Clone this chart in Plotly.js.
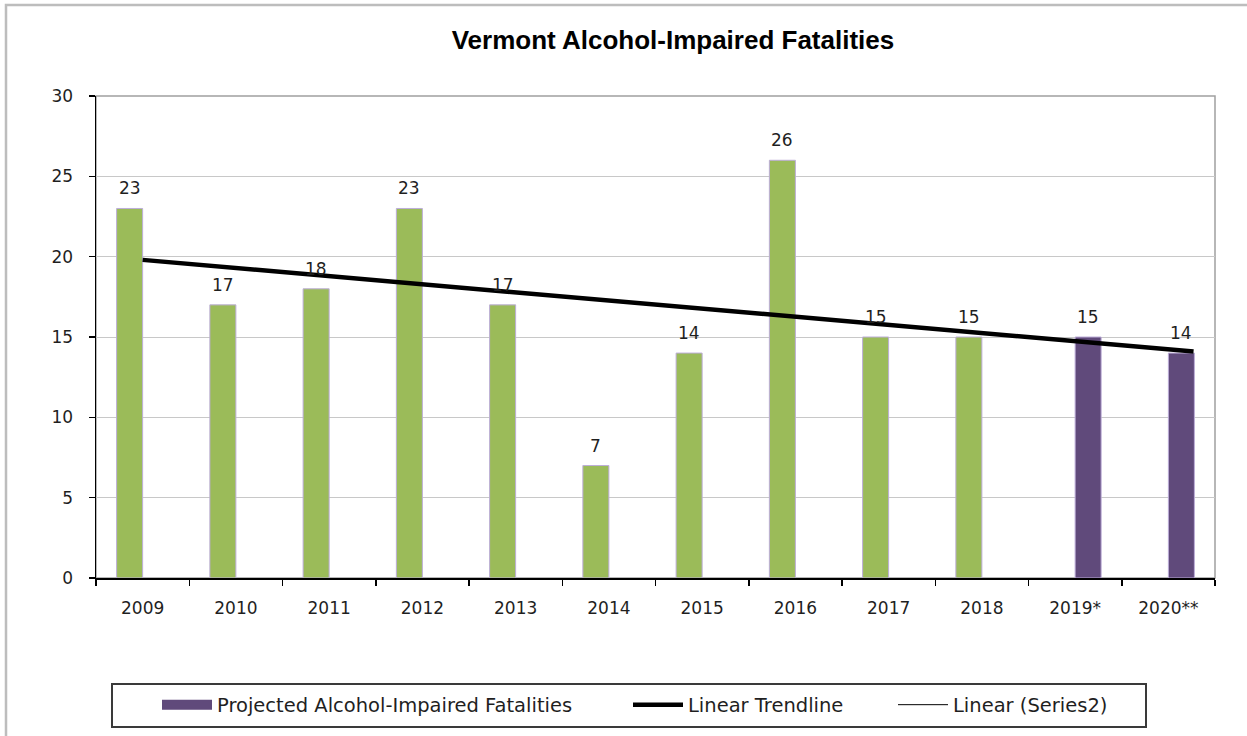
<!DOCTYPE html>
<html>
<head>
<meta charset="utf-8">
<script src="https://cdn.plot.ly/plotly-3.0.1.min.js"></script>
<style>html,body{margin:0;padding:0;background:#fff;}#chart{width:1247px;height:736px;}</style>
</head>
<body>
<div id="chart"></div>
<script>
// ---- data ----
const categories = ['2009','2010','2011','2012','2013','2014','2015','2016','2017','2018','2019*','2020**'];
const actualYears = ['2009','2010','2011','2012','2013','2014','2015','2016','2017','2018'];
const actualValues = [23,17,18,23,17,7,14,26,15,15];
const projectedYears = ['2019*','2020**'];
const projectedValues = [15,14];
// trendline: start at 2009, extending a bit past 2020** centre
const trendPos = [0, 11.27];
const trendValues = [19.8, 14.1];
const yTicks = [0,5,10,15,20,25,30];

const idx = c => categories.indexOf(c);
const actualX = actualYears.map(idx);
const projX = projectedYears.map(idx);

const FONT = 'DejaVu Sans, Verdana, sans-serif';
const TXT = '#1f1f1f';
const PURPLE = '#604A7B';

const traces = [
  {type:'bar', name:'Alcohol-Impaired Fatalities', x:actualX, y:actualValues, offsetgroup:'a',
   marker:{color:'#9BBB59', line:{color:'#BCADD8', width:1}}, showlegend:false},
  {type:'bar', name:'Projected Alcohol-Impaired Fatalities', x:projX, y:projectedValues, offsetgroup:'b',
   marker:{color:PURPLE, line:{color:'#BCADD8', width:1}}, showlegend:false},
  // legend swatch for the projected series (wide rectangle like the original)
  {type:'scatter', mode:'lines', name:'Projected Alcohol-Impaired Fatalities', x:[null], y:[null],
   line:{color:PURPLE, width:13}, legend:'legend'},
  {type:'scatter', mode:'lines', name:'Linear Trendline', x:trendPos, y:trendValues,
   line:{color:'#000', width:4.5}, legend:'legend2', cliponaxis:false},
  {type:'scatter', mode:'lines', name:'Linear (Series2)', x:[null], y:[null],
   line:{color:'#000', width:1}, legend:'legend3'}
];

const LBL = {family:FONT, size:17, color:TXT};
const annotations = [];
actualX.forEach((x,i)=>annotations.push({x:x, y:actualValues[i], xref:'x', yref:'y', text:String(actualValues[i]),
  showarrow:false, yanchor:'bottom', xshift:-13, yshift:8, font:LBL}));
projX.forEach((x,i)=>annotations.push({x:x, y:projectedValues[i], xref:'x', yref:'y', text:String(projectedValues[i]),
  showarrow:false, yanchor:'bottom', xshift:13, yshift:8, font:LBL}));

const legendFont = {family:FONT, size:19.5, color:TXT};
const LY = (578-705)/482;
const layout = {
  width:1247, height:736,
  margin:{l:96, r:32, t:96, b:158},
  paper_bgcolor:'#fff', plot_bgcolor:'#fff',
  barmode:'group', bargap:0.442, bargroupgap:0,
  title:{text:'<b>Vermont Alcohol-Impaired Fatalities</b>', x:0.5156, xref:'paper', xanchor:'center',
         y:1-40/736, yref:'container', yanchor:'middle',
         font:{family:'Liberation Sans, Arial, sans-serif', size:26, color:'#000'}},
  xaxis:{range:[-0.5,11.5], tickvals:categories.map((c,i)=>i), ticktext:categories,
         ticks:'', showgrid:false, zeroline:false, showline:true, linecolor:'#000', linewidth:1.5,
         tickfont:LBL, ticklabelstandoff:14,
         minor:{tick0:-0.5, dtick:1, ticks:'outside', ticklen:6, tickcolor:'#000', tickwidth:1.5, showgrid:false},
         fixedrange:true},
  yaxis:{range:[0,30], tickvals:yTicks, ticks:'outside', ticklen:6, tickcolor:'#000', tickwidth:1.5,
         showgrid:true, gridcolor:'#C8C8C8', gridwidth:1, zeroline:false, showline:true, linecolor:'#000', linewidth:1.5,
         tickfont:LBL, ticklabelstandoff:12, fixedrange:true},
  legend:{orientation:'h', x:(157-96)/1119, xanchor:'left', y:LY, yanchor:'middle',
          font:legendFont, bgcolor:'rgba(0,0,0,0)', itemwidth:50},
  legend2:{orientation:'h', x:(628-96)/1119, xanchor:'left', y:LY, yanchor:'middle',
          font:legendFont, bgcolor:'rgba(0,0,0,0)', itemwidth:50},
  legend3:{orientation:'h', x:(893-96)/1119, xanchor:'left', y:LY, yanchor:'middle',
          font:legendFont, bgcolor:'rgba(0,0,0,0)', itemwidth:50},
  annotations:annotations,
  shapes:[
    // outer chart frame
    {type:'rect', xref:'paper', yref:'paper', x0:(6-96)/1119, x1:(1260-96)/1119, y0:(578-760)/482, y1:(578-5)/482,
     line:{color:'#BDBDBD', width:2.5}, fillcolor:'rgba(0,0,0,0)', layer:'below'},
    // plot area border (right/top)
    {type:'rect', xref:'paper', yref:'paper', x0:0, x1:1, y0:0, y1:1,
     line:{color:'#A0A0A0', width:1.5}, fillcolor:'rgba(0,0,0,0)', layer:'below'},
    // legend box
    {type:'rect', xref:'paper', yref:'paper', x0:(112-96)/1119, x1:(1146-96)/1119, y0:(578-727)/482, y1:(578-684)/482,
     line:{color:'#3a3a3a', width:2}, fillcolor:'rgba(0,0,0,0)'}
  ]
};

Plotly.newPlot('chart', traces, layout, {displayModeBar:false, staticPlot:true});
</script>
</body>
</html>
